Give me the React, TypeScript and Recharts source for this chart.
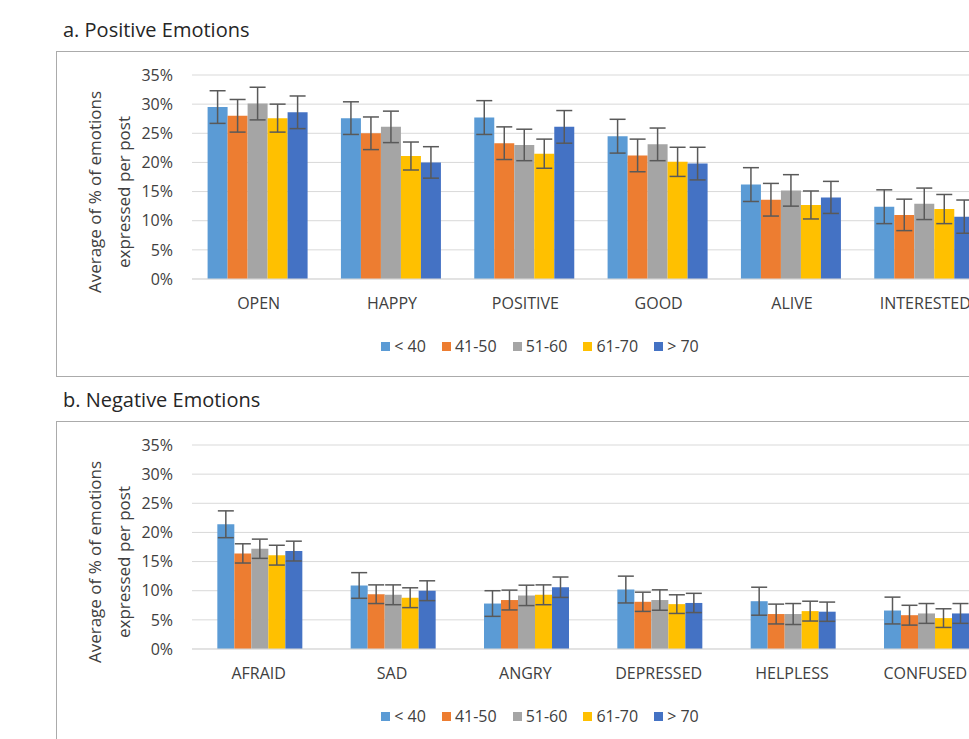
import React from "react";
import {
  Bar,
  BarChart,
  CartesianGrid,
  ErrorBar,
  Legend,
  XAxis,
  YAxis,
} from "recharts";

const positiveCategories = ["OPEN", "HAPPY", "POSITIVE", "GOOD", "ALIVE", "INTERESTED"];
const negativeCategories = ["AFRAID", "SAD", "ANGRY", "DEPRESSED", "HELPLESS", "CONFUSED"];

const seriesNames = ["< 40", "41-50", "51-60", "61-70", "> 70"];
const seriesColors = ["#5B9BD5", "#ED7D31", "#A5A5A5", "#FFC000", "#4472C4"];
const percentTicks = [0, 5, 10, 15, 20, 25, 30, 35];

// positive emotions, one array per age group
const posUnder40 = [29.5, 27.6, 27.7, 24.5, 16.2, 12.4];
const pos41to50 = [28.0, 25.0, 23.3, 21.2, 13.6, 11.0];
const pos51to60 = [30.1, 26.1, 23.0, 23.1, 15.2, 12.9];
const pos61to70 = [27.6, 21.1, 21.5, 20.1, 12.7, 12.0];
const posOver70 = [28.6, 20.0, 26.1, 19.8, 14.0, 10.7];

const posErrUnder40 = [2.8, 2.8, 2.9, 2.9, 2.9, 2.9];
const posErr41to50 = [2.8, 2.8, 2.8, 2.8, 2.8, 2.7];
const posErr51to60 = [2.8, 2.7, 2.7, 2.8, 2.7, 2.7];
const posErr61to70 = [2.4, 2.4, 2.5, 2.5, 2.4, 2.5];
const posErrOver70 = [2.8, 2.7, 2.8, 2.8, 2.75, 2.85];

// negative emotions
const negUnder40 = [21.4, 10.9, 7.8, 10.2, 8.2, 6.6];
const neg41to50 = [16.4, 9.4, 8.4, 8.1, 6.0, 5.8];
const neg51to60 = [17.2, 9.3, 9.2, 8.4, 6.0, 6.1];
const neg61to70 = [16.1, 8.8, 9.3, 7.7, 6.5, 5.3];
const negOver70 = [16.8, 10.0, 10.6, 7.9, 6.4, 6.1];

const negErrUnder40 = [2.3, 2.2, 2.2, 2.3, 2.4, 2.3];
const negErr41to50 = [1.65, 1.6, 1.7, 1.65, 1.7, 1.7];
const negErr51to60 = [1.65, 1.7, 1.75, 1.75, 1.8, 1.7];
const negErr61to70 = [1.7, 1.7, 1.7, 1.6, 1.7, 1.6];
const negErrOver70 = [1.7, 1.7, 1.75, 1.65, 1.65, 1.7];

const buildRows = (cats: string[], values: number[][], errors: number[][]) =>
  cats.map((name, i) => {
    const row: Record<string, string | number> = { name };
    values.forEach((v, s) => {
      row["s" + s] = v[i];
      row["e" + s] = errors[s][i];
    });
    return row;
  });

const positiveRows = buildRows(
  positiveCategories,
  [posUnder40, pos41to50, pos51to60, pos61to70, posOver70],
  [posErrUnder40, posErr41to50, posErr51to60, posErr61to70, posErrOver70]
);
const negativeRows = buildRows(
  negativeCategories,
  [negUnder40, neg41to50, neg51to60, neg61to70, negOver70],
  [negErrUnder40, negErr41to50, negErr51to60, negErr61to70, negErrOver70]
);

const FONT = "'Open Sans', sans-serif";
const TEXT = "#404040";

const renderLegend = (props: any) => {
  // keep the series order, recharts sorts the payload by name
  const payload = [...(props.payload || [])].sort(
    (a: any, b: any) => seriesNames.indexOf(a.value) - seriesNames.indexOf(b.value)
  );
  return (
    <div style={{ display: "flex", justifyContent: "center", fontSize: 16, color: TEXT, fontFamily: FONT }}>
      {payload.map((entry: any) => (
        <span key={entry.value} style={{ display: "flex", alignItems: "center", marginRight: 16 }}>
          <span style={{ width: 9, height: 9, background: entry.color, marginRight: 4 }} />
          {entry.value}
        </span>
      ))}
    </div>
  );
};

const Panel = ({
  top,
  title,
  rows,
  gap,
  boxHeight,
}: {
  top: number;
  title: string;
  rows: any[];
  gap: string;
  boxHeight: number;
}) => (
  <>
    <div
      style={{
        position: "absolute",
        left: 63,
        top: top - 35,
        fontSize: 20,
        color: "#262626",
        fontFamily: FONT,
        whiteSpace: "nowrap",
      }}
    >
      {title}
    </div>
    <div
      style={{
        position: "absolute",
        left: 56,
        top: top,
        width: 1000,
        height: boxHeight,
        border: "1px solid #ababab",
        boxSizing: "border-box",
      }}
    />
    <div
      style={{
        position: "absolute",
        left: 110 - 150,
        top: top + 141 - 30,
        width: 300,
        height: 60,
        transform: "rotate(-90deg)",
        textAlign: "center",
        fontSize: 17,
        lineHeight: "29px",
        color: TEXT,
        fontFamily: FONT,
      }}
    >
      Average of % of emotions
      <br />
      expressed per post
    </div>
    <div style={{ position: "absolute", left: 0, top: top - 51 }}>
      <BarChart
        width={1000}
        height={370}
        data={rows}
        margin={{ top: 75, right: 8, left: 100, bottom: 61 }}
        barCategoryGap={gap}
        barGap={0}
        style={{ fontFamily: FONT }}
      >
        <CartesianGrid vertical={false} stroke="#d9d9d9" />
        <XAxis
          dataKey="name"
          height={30}
          tickLine={false}
          tickSize={0}
          tickMargin={19}
          axisLine={{ stroke: "#d9d9d9" }}
          tick={{ fontSize: 16, fill: TEXT }}
          interval={0}
        />
        <YAxis
          width={92}
          domain={[0, 35]}
          ticks={percentTicks}
          tickFormatter={(v) => `${v}%`}
          axisLine={false}
          tickLine={false}
          tickSize={0}
          tickMargin={19}
          tick={{ fontSize: 16, fill: TEXT }}
        />
        <Legend
          verticalAlign="middle"
          align="center"
          layout="horizontal"
          content={renderLegend}
          wrapperStyle={{ top: 335, left: 338, width: 420 }}
        />
        {seriesNames.map((name, s) => (
          <Bar key={name} dataKey={"s" + s} name={name} fill={seriesColors[s]} isAnimationActive={false}>
            <ErrorBar
              dataKey={"e" + s}
              width={8}
              stroke="#595959"
              strokeWidth={1.5}
              direction="y"
              isAnimationActive={false}
            />
          </Bar>
        ))}
      </BarChart>
    </div>
  </>
);

export default function App() {
  return (
    <div
      style={{
        position: "absolute",
        left: 0,
        top: 0,
        width: 969,
        height: 739,
        overflow: "hidden",
        background: "#fff",
      }}
    >
      <Panel top={51} title="a. Positive Emotions" rows={positiveRows} gap="11.7%" boxHeight={326} />
      <Panel top={421} title="b. Negative Emotions" rows={negativeRows} gap="19%" boxHeight={326} />
    </div>
  );
}
